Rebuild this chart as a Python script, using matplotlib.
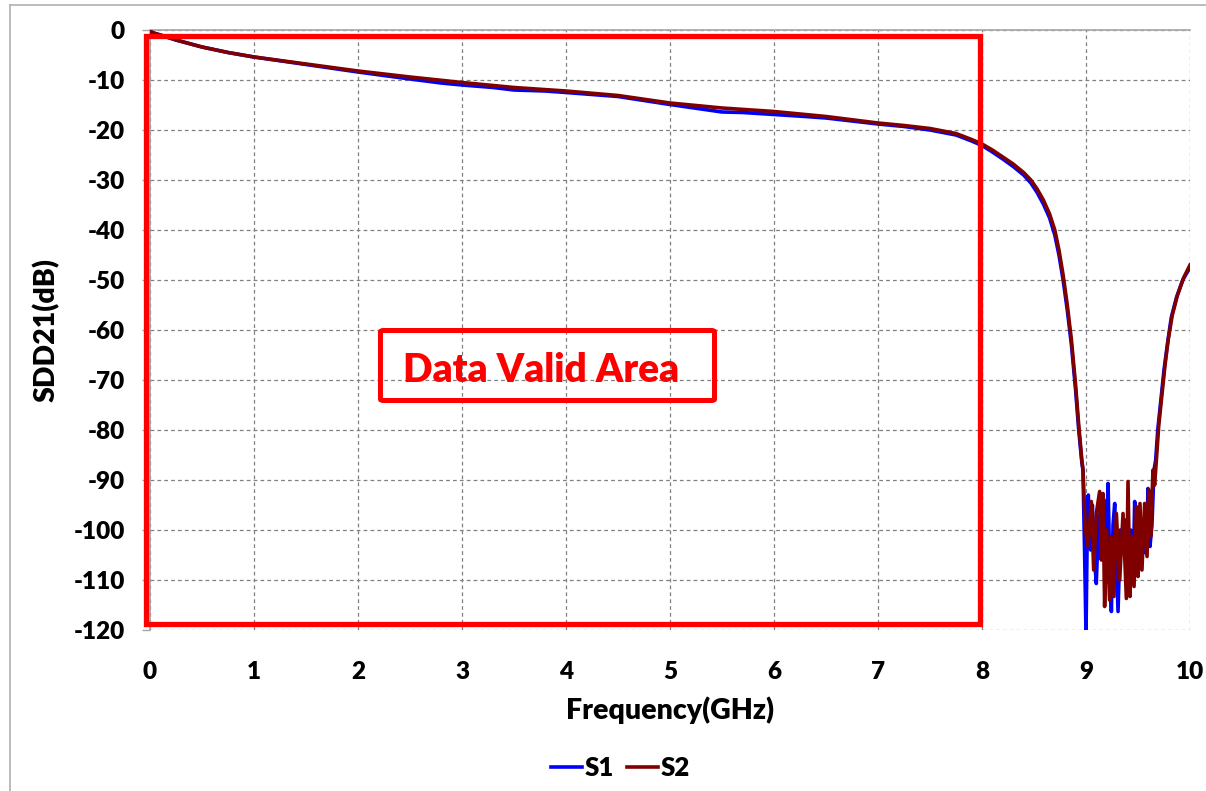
import matplotlib
matplotlib.use("Agg")
import matplotlib.pyplot as plt
from matplotlib.patches import Rectangle, FancyBboxPatch
from matplotlib.lines import Line2D

plt.rcParams['font.family'] = ['Lato', 'DejaVu Sans']
plt.rcParams['font.weight'] = 'bold'
WEIGHT = 'heavy'

# ---- measured SDD21 (dB) vs frequency (GHz) ----
freq_s2 = [0.00, 0.05, 0.10, 0.25, 0.50, 0.75, 1.00, 1.50, 2.00, 2.50, 3.00, 3.50,
           4.00, 4.50, 5.00, 5.50, 6.00, 6.50, 7.00, 7.25, 7.50, 7.75, 7.90, 8.00,
           8.10, 8.20, 8.30, 8.40, 8.47, 8.53, 8.59, 8.65, 8.70, 8.74, 8.78, 8.82,
           8.86, 8.90, 8.93, 8.96, 8.971, 8.994, 9.019, 9.051, 9.074, 9.099, 9.131,
           9.147, 9.163, 9.179, 9.199, 9.227, 9.244, 9.269, 9.292, 9.324, 9.356,
           9.388, 9.404, 9.423, 9.439, 9.462, 9.484, 9.500, 9.519, 9.538, 9.564,
           9.587, 9.603, 9.622, 9.644, 9.66, 9.68, 9.70, 9.73, 9.76, 9.79, 9.83,
           9.88, 9.94, 10.00]
sdd21_s2 = [-0.3, -0.7, -1.0, -2.0, -3.4, -4.5, -5.4, -6.8, -8.2, -9.4, -10.5, -11.5,
            -12.2, -13.1, -14.6, -15.6, -16.3, -17.3, -18.6, -19.1, -19.7, -20.7,
            -21.9, -22.8, -24.0, -25.4, -26.8, -28.5, -30.0, -31.8, -34.0, -36.8,
            -40.0, -44.0, -49.0, -55.0, -62.0, -71.0, -79.0, -86.0, -88.0, -100.0,
            -103.3, -94.3, -108.0, -96.7, -92.3, -106.0, -92.7, -115.3, -100.0,
            -114.0, -101.3, -113.3, -96.7, -110.0, -96.7, -113.7, -90.3, -113.3,
            -101.3, -111.3, -95.3, -109.3, -94.7, -108.0, -94.7, -105.3, -92.0,
            -101.3, -88.0, -91.0, -85.0, -79.0, -73.0, -67.0, -62.0, -57.0, -53.0,
            -49.5, -47.0]

freq_s1 = [0.00, 0.05, 0.10, 0.25, 0.50, 0.75, 1.00, 1.50, 2.00, 2.50, 2.80, 3.00,
           3.30, 3.50, 3.80, 4.00, 4.50, 5.00, 5.30, 5.50, 5.70, 6.00, 6.30, 6.50,
           7.00, 7.25, 7.50, 7.75, 7.90, 8.00, 8.10, 8.20, 8.30, 8.40, 8.47, 8.53,
           8.59, 8.65, 8.70, 8.74, 8.78, 8.82, 8.86, 8.90, 8.93, 8.96, 8.971,
           8.987, 9.000, 9.013, 9.022, 9.045, 9.061, 9.083, 9.099, 9.122, 9.147,
           9.173, 9.192, 9.212, 9.227, 9.244, 9.260, 9.276, 9.308, 9.330, 9.356,
           9.378, 9.404, 9.429, 9.452, 9.468, 9.490, 9.506, 9.532, 9.554, 9.580,
           9.596, 9.615, 9.634, 9.654, 9.67, 9.69, 9.72, 9.75, 9.785, 9.82, 9.87,
           9.93, 10.00]
sdd21_s1 = [-0.3, -0.7, -1.0, -2.0, -3.4, -4.5, -5.4, -6.9, -8.4, -9.8, -10.6, -11.0,
            -11.5, -12.0, -12.2, -12.5, -13.3, -14.9, -15.8, -16.4, -16.5, -16.9,
            -17.3, -17.6, -18.8, -19.3, -20.0, -21.0, -22.2, -23.1, -24.4, -25.8,
            -27.3, -29.0, -30.6, -32.5, -34.8, -37.6, -41.0, -45.0, -50.0, -56.0,
            -63.0, -72.0, -80.0, -86.5, -88.0, -105.0, -121.0, -98.0, -93.0, -104.0,
            -95.0, -106.0, -110.7, -97.0, -104.0, -94.0, -107.0, -90.7, -106.0,
            -116.3, -99.0, -94.7, -116.3, -100.0, -104.0, -98.0, -106.0, -100.0,
            -110.7, -94.3, -104.0, -108.0, -100.0, -104.0, -104.7, -91.7, -103.3,
            -99.0, -88.0, -86.0, -80.0, -74.0, -68.0, -62.5, -57.5, -53.5, -50.0,
            -47.5]

x_ticks = [0, 1, 2, 3, 4, 5, 6, 7, 8, 9, 10]
y_ticks = [0, -10, -20, -30, -40, -50, -60, -70, -80, -90, -100, -110, -120]

W, H = 1206, 791
fig = plt.figure(figsize=(W / 100, H / 100), dpi=100)
ax = fig.add_axes([150 / W, 1 - 630 / H, 1040 / W, 600 / H])

ax.plot(freq_s1, sdd21_s1, color='#0000FF', lw=2.6, label='S1', zorder=3,
        solid_joinstyle='round')
ax.plot(freq_s2, sdd21_s2, color='#800000', lw=2.6, label='S2', zorder=4,
        solid_joinstyle='round')

ax.set_xlim(0, 10)
ax.set_ylim(-120, 0)
ax.set_xticks(x_ticks)
ax.set_yticks(y_ticks)
ax.set_xticklabels([str(v) for v in x_ticks])
ax.set_yticklabels([str(v) for v in y_ticks])

ax.grid(True, color='#808080', lw=0.9, linestyle=(0, (3, 2.5)), zorder=1)
for s in ('bottom', 'right'):
    ax.spines[s].set_visible(False)
for s in ('left', 'top'):
    ax.spines[s].set_color('#a6a6a6')
    ax.spines[s].set_linewidth(1.2)

ax.tick_params(axis='y', length=6, width=1, color='#a6a6a6', pad=12,
               labelsize=17.5)
ax.tick_params(axis='x', length=0, pad=22, labelsize=17.5)
for lbl in ax.get_xticklabels() + ax.get_yticklabels():
    lbl.set_fontweight(WEIGHT)

ax.set_xlabel('Frequency(GHz)', fontsize=20.5, fontweight=WEIGHT, labelpad=10)
ax.set_ylabel('SDD21(dB)', fontsize=20.5, fontweight=WEIGHT, labelpad=10)

# valid-data region outline
ax.add_patch(Rectangle((-0.043, -118.7), 7.98 + 0.043, 118.7 - 1.2, fill=False,
                       edgecolor='#FF0000', lw=3.8, zorder=5, clip_on=False))
ax.add_patch(FancyBboxPatch((2.216, -74.1), 5.428 - 2.216, 74.1 - 60.1,
                            boxstyle='round,pad=0,rounding_size=0.03',
                            fill=False, edgecolor='#FF0000', lw=3.6, zorder=5,
                            mutation_aspect=10))
ax.text(2.43, -70.4, 'Data Valid Area', color='#FF0000', fontsize=28,
        fontweight=WEIGHT, ha='left', va='baseline', zorder=6)

leg = fig.legend(loc='center', bbox_to_anchor=(0.5145, 0.029), ncol=2,
                 frameon=False, fontsize=18.5, handlelength=1.2,
                 handletextpad=0.1, columnspacing=0.5)
for t in leg.get_texts():
    t.set_fontweight(WEIGHT)

# chart frame edges
fig.add_artist(Line2D([10 / W, 10 / W], [0, 1 - 5 / H], color='#b0b0b0', lw=1.2))
fig.add_artist(Line2D([10 / W, 1], [1 - 5 / H, 1 - 5 / H], color='#b0b0b0', lw=1.2))

fig.savefig('out.png', dpi=100)
